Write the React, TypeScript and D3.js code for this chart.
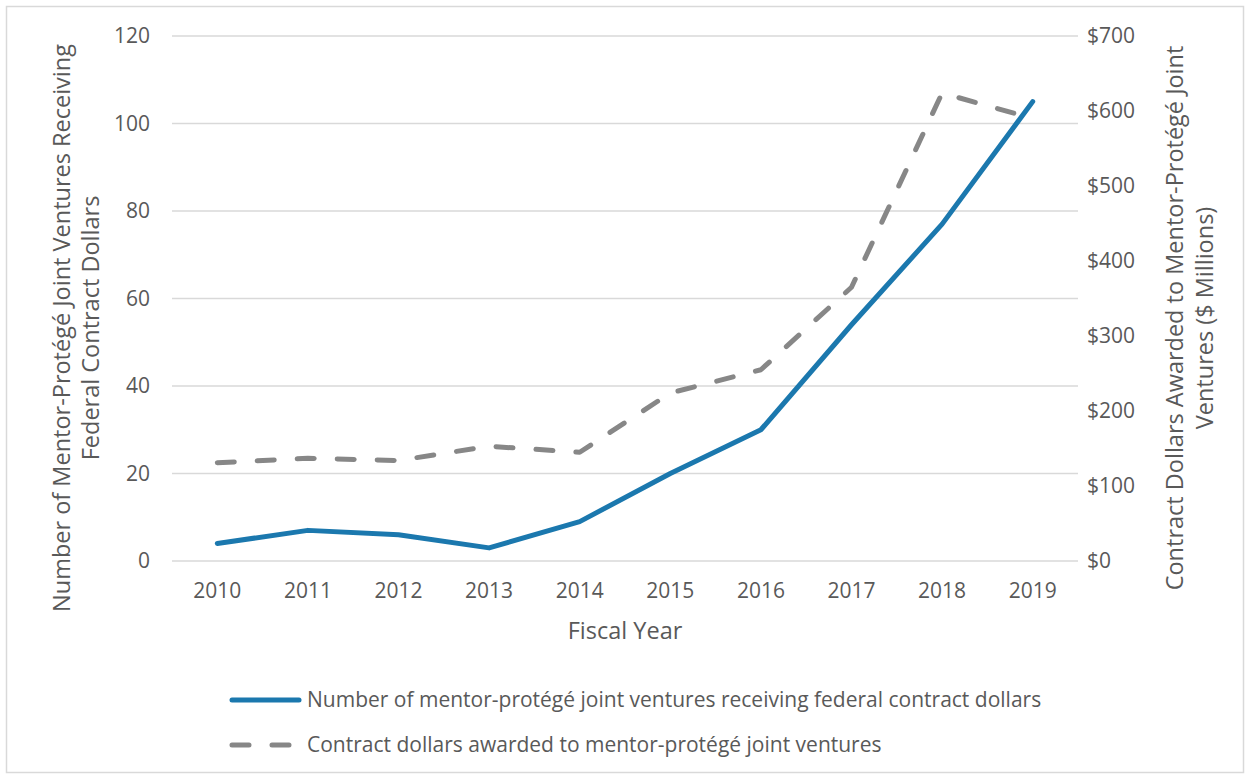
import React from "react";
import * as d3 from "d3";

const years = ["2010","2011","2012","2013","2014","2015","2016","2017","2018","2019"];
const jvCounts = [4, 7, 6, 3, 9, 20, 30, 54, 77, 105];
const dollars = [131, 137, 134, 153, 145, 224, 255, 365, 624, 590];
const leftTicks = [0, 20, 40, 60, 80, 100, 120];
const rightTicks = [0, 100, 200, 300, 400, 500, 600, 700];

const W = 1250, H = 778;
const M = { left: 172, right: 1078, top: 36, bottom: 561 };
const FONT = "'Open Sans', 'Liberation Sans', sans-serif";
const TXT = "#595959";
const BLUE = "#1B78AE";
const GRAY = "#878787";

export default function App() {
  const x = d3.scaleBand<string>().domain(years).range([M.left, M.right]);
  const xc = (d: string) => (x(d) as number) + x.bandwidth() / 2;
  const yL = d3.scaleLinear().domain([0, 120]).range([M.bottom, M.top]);
  const yR = d3.scaleLinear().domain([0, 700]).range([M.bottom, M.top]);
  const lineL = d3.line<number>().x((_, i) => xc(years[i])).y((d) => yL(d));
  const lineR = d3.line<number>().x((_, i) => xc(years[i])).y((d) => yR(d));

  return (
    <svg width={W} height={H} style={{ position: "absolute", left: 0, top: 0, fontFamily: FONT }}>
      <rect x={0} y={0} width={W} height={H} fill="#fff" />
      <rect x={6.5} y={6.5} width={W - 13} height={H - 12} fill="none" stroke="#d9d9d9" strokeWidth={1.5} />
      {leftTicks.map((t) => (
        <line key={t} x1={M.left} x2={M.right} y1={yL(t)} y2={yL(t)} stroke="#d9d9d9" strokeWidth={1.5} />
      ))}
      {leftTicks.map((t) => (
        <text key={t} x={150} y={yL(t)} dy="0.35em" textAnchor="end" fontSize={21} fill={TXT}>{t}</text>
      ))}
      {rightTicks.map((t) => (
        <text key={t} x={1087} y={yR(t)} dy="0.35em" textAnchor="start" fontSize={21} fill={TXT}>${t}</text>
      ))}
      {years.map((yv) => (
        <text key={yv} x={xc(yv)} y={591} dy="0.35em" textAnchor="middle" fontSize={21} fill={TXT}>{yv}</text>
      ))}
      <text x={(M.left + M.right) / 2} y={631} dy="0.35em" textAnchor="middle" fontSize={23.5} fill={TXT}>Fiscal Year</text>
      <g transform={`translate(62,328) rotate(-90)`}>
        <text x={0} y={0} dy="0.35em" textAnchor="middle" fontSize={23.5} fill={TXT}>Number of Mentor-Protégé Joint Ventures Receiving</text>
        <text x={0} y={29} dy="0.35em" textAnchor="middle" fontSize={23.5} fill={TXT}>Federal Contract Dollars</text>
      </g>
      <g transform={`translate(1175,318) rotate(-90)`}>
        <text x={0} y={0} dy="0.35em" textAnchor="middle" fontSize={23.5} fill={TXT}>Contract Dollars Awarded to Mentor-Protégé Joint</text>
        <text x={0} y={30} dy="0.35em" textAnchor="middle" fontSize={23.5} fill={TXT}>Ventures ($ Millions)</text>
      </g>
      <path d={lineR(dollars) || ""} fill="none" stroke={GRAY} strokeWidth={5} strokeDasharray="17,23" strokeLinecap="round" strokeLinejoin="round" />
      <path d={lineL(jvCounts) || ""} fill="none" stroke={BLUE} strokeWidth={5} strokeLinecap="round" strokeLinejoin="round" />
      <line x1={232} x2={299} y1={700} y2={700} stroke={BLUE} strokeWidth={5} strokeLinecap="round" />
      <text x={307} y={700} dy="0.35em" fontSize={21} fill={TXT}>Number of mentor-protégé joint ventures receiving federal contract dollars</text>
      <line x1={232} x2={299} y1={745} y2={745} stroke={GRAY} strokeWidth={5} strokeDasharray="17,23" strokeLinecap="round" />
      <text x={307} y={745} dy="0.35em" fontSize={21} fill={TXT}>Contract dollars awarded to mentor-protégé joint ventures</text>
    </svg>
  );
}
